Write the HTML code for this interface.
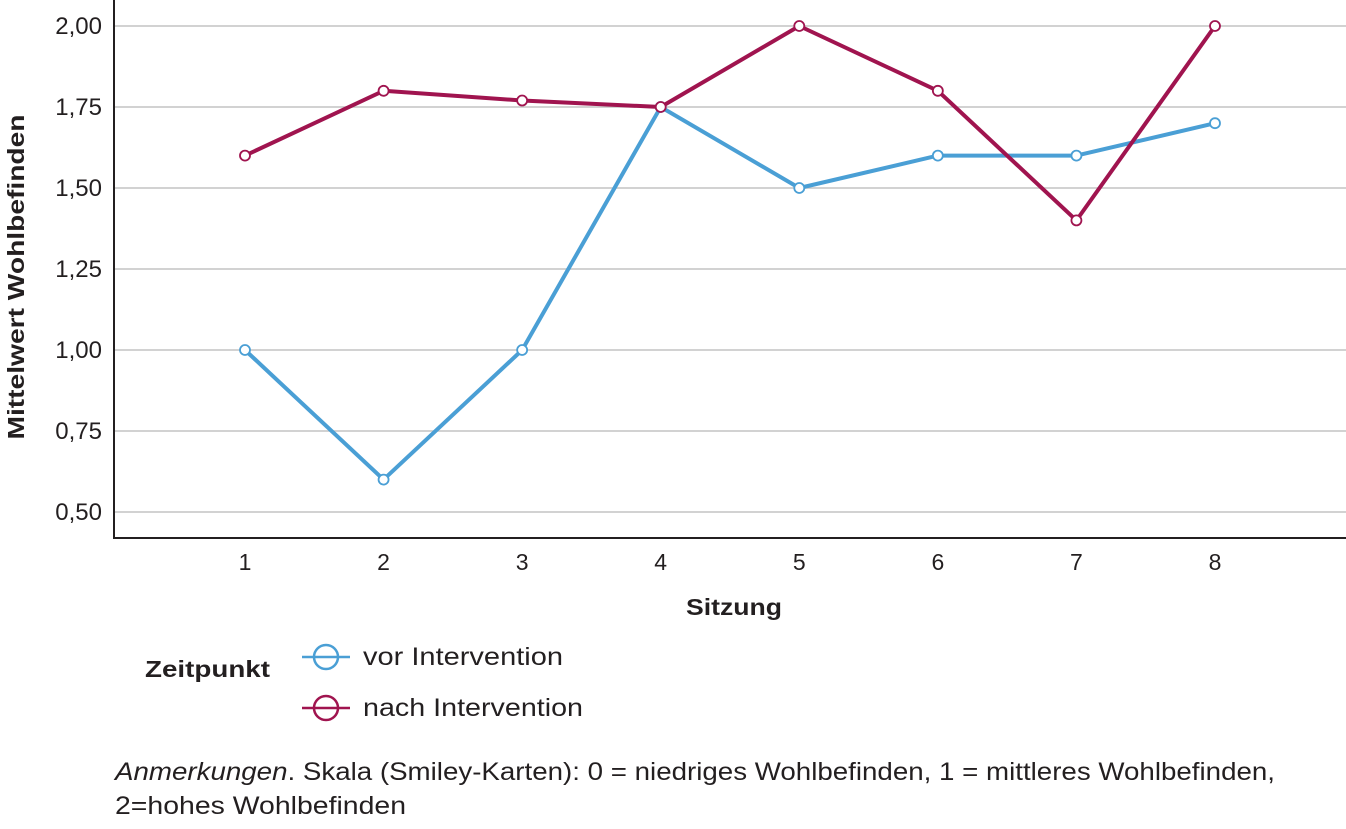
<!DOCTYPE html>
<html><head><meta charset="utf-8"><style>
body{margin:0;background:#fff;}
svg text{font-family:"Liberation Sans",sans-serif;fill:#231f20;}
</style></head><body>
<svg width="1346" height="824" viewBox="0 0 1346 824">
<g id="grid"></g>
<g id="yticks"></g>
<g id="xticks"></g>
<line x1="114" y1="0" x2="114" y2="538" stroke="#231f20" stroke-width="2"/>
<line x1="113" y1="538" x2="1346" y2="538" stroke="#231f20" stroke-width="2"/>
<g id="series"></g>
<text x="0" y="0" transform="translate(24,277) rotate(-90)" text-anchor="middle" font-size="23" font-weight="bold" textLength="325" lengthAdjust="spacingAndGlyphs">Mittelwert Wohlbefinden</text>
<text x="686" y="615" font-size="23" font-weight="bold" textLength="96" lengthAdjust="spacingAndGlyphs">Sitzung</text>
<text x="145" y="677" font-size="23" font-weight="bold" textLength="125" lengthAdjust="spacingAndGlyphs">Zeitpunkt</text>
<g>
<line x1="302" y1="657" x2="350" y2="657" stroke="#4a9fd5" stroke-width="2.5"/>
<circle cx="326" cy="657" r="12" fill="none" stroke="#4a9fd5" stroke-width="2.5"/>
<text x="363" y="665" font-size="25" textLength="200" lengthAdjust="spacingAndGlyphs">vor Intervention</text></g>
<g>
<line x1="302" y1="708" x2="350" y2="708" stroke="#a0144f" stroke-width="2.5"/>
<circle cx="326" cy="708" r="12" fill="none" stroke="#a0144f" stroke-width="2.5"/>
<text x="363" y="716" font-size="25" textLength="220" lengthAdjust="spacingAndGlyphs">nach Intervention</text></g>
<text x="115" y="780" font-size="25" textLength="1160" lengthAdjust="spacingAndGlyphs"><tspan font-style="italic">Anmerkungen</tspan>. Skala (Smiley-Karten): 0 = niedriges Wohlbefinden, 1 = mittleres Wohlbefinden,</text>
<text x="115" y="814" font-size="25" textLength="291" lengthAdjust="spacingAndGlyphs">2=hohes Wohlbefinden</text>
</svg>
<script>
const categories=[1,2,3,4,5,6,7,8];
const vorValues=[1.00,0.60,1.00,1.75,1.50,1.60,1.60,1.70];
const nachValues=[1.60,1.80,1.77,1.75,2.00,1.80,1.40,2.00];
const yTicks=[0.50,0.75,1.00,1.25,1.50,1.75,2.00];
const NS="http://www.w3.org/2000/svg";
function xS(c){return 245+(c-1)*138.57;}
function yS(v){return 26+(2-v)*324;}
function mk(t,a,p){const e=document.createElementNS(NS,t);for(const k in a)e.setAttribute(k,a[k]);p.appendChild(e);return e;}
const grid=document.getElementById('grid'),yt=document.getElementById('yticks'),xt=document.getElementById('xticks'),ser=document.getElementById('series');
yTicks.forEach(v=>{
 const l=mk('line',{x1:114,x2:1346,y1:yS(v),y2:yS(v),stroke:'#c4c4c4','stroke-width':1.5},grid);
 
 
 const t=mk('text',{x:102,y:yS(v)+8,'text-anchor':'end','font-size':24},yt);
 t.textContent=v.toFixed(2).replace('.',',');
 
 
});
categories.forEach(c=>{
 const t=mk('text',{x:xS(c),y:570,'text-anchor':'middle','font-size':23},xt);
 t.textContent=c;
 
 
});
function draw(vals,col,name){
 const p=mk('polyline',{points:vals.map((v,i)=>xS(categories[i])+','+yS(v)).join(' '),fill:'none',stroke:col,'stroke-width':4,'stroke-linejoin':'round'},ser);
 
 
 vals.forEach((v,i)=>{
  const c=mk('circle',{cx:xS(categories[i]),cy:yS(v),r:5,fill:'#fff',stroke:col,'stroke-width':1.8},ser);
  
  
 });
}
draw(vorValues,'#4a9fd5','vor-intervention');
draw(nachValues,'#a0144f','nach-intervention');
</script>
</body></html>
